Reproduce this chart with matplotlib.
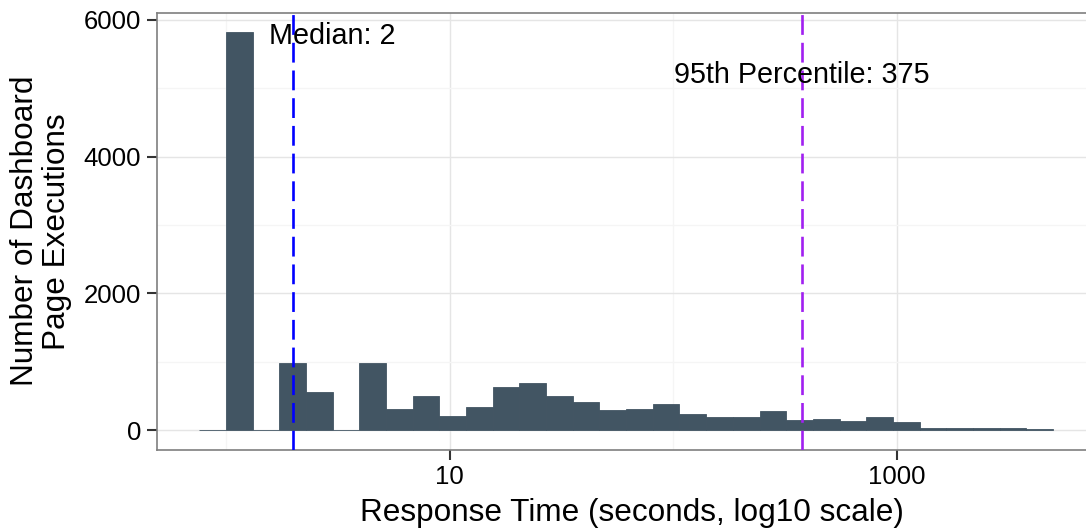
import numpy as np
import matplotlib
matplotlib.use("Agg")
import matplotlib.pyplot as plt
from matplotlib.ticker import FixedLocator, FixedFormatter

plt.rcParams['font.family'] = ['Liberation Sans', 'DejaVu Sans']

# ---- data ----
# log10-spaced histogram bins: first edge and width in log10(seconds)
bin_start_log10 = -0.1193
bin_width_log10 = 0.1193
counts = [0, 5815, 0, 976, 553, 0, 976, 306, 491, 200, 335, 626, 685, 495, 408,
          291, 306, 379, 233, 189, 189, 277, 146, 160, 131, 189, 117, 28, 28, 28, 28, 14]
median_value = 2
p95_value = 375
median_label = "Median: 2"
p95_label = "95th Percentile: 375"
median_label_pos = (3, 5770)
p95_label_pos = (375, 5200)
x_major_ticks = [10, 1000]
x_minor_ticks = [1, 100, 10000]
y_major_ticks = [0, 2000, 4000, 6000]
y_minor_ticks = [1000, 3000, 5000]

# ---- figure ----
W, H = 1086, 529
fig = plt.figure(figsize=(W / 100, H / 100), dpi=100)
left_px, right_px, top_px, bot_px = 157, 1095.6, 13, 449.5
ax = fig.add_axes([left_px / W, 1 - bot_px / H, (right_px - left_px) / W, (bot_px - top_px) / H])

n = len(counts)
edges = 10 ** (bin_start_log10 + bin_width_log10 * np.arange(n + 1))
ax.set_xscale('log')
bar_color = '#425563'
ax.bar(edges[:-1], counts, width=np.diff(edges), align='edge', color=bar_color,
       edgecolor=bar_color, linewidth=0.6, zorder=3)

ax.axvline(median_value, color='#0000FF', linewidth=1.9, dashes=(7.5, 3.0), zorder=4)
ax.axvline(p95_value, color='#A020F0', linewidth=1.9, dashes=(7.5, 3.0), zorder=4)

ax.text(median_label_pos[0], median_label_pos[1], median_label, ha='center', va='center',
        fontsize=20.7, color='black', zorder=5)
ax.text(p95_label_pos[0], p95_label_pos[1], p95_label, ha='center', va='center',
        fontsize=20.7, color='black', zorder=5)

ax.set_xlim(10 ** -0.3086, 10 ** 3.889)
ax.set_ylim(-285, 6100)

ax.xaxis.set_major_locator(FixedLocator(x_major_ticks))
ax.xaxis.set_major_formatter(FixedFormatter([str(t) for t in x_major_ticks]))
ax.xaxis.set_minor_locator(FixedLocator(x_minor_ticks))
ax.xaxis.set_minor_formatter(FixedFormatter([''] * len(x_minor_ticks)))
ax.yaxis.set_major_locator(FixedLocator(y_major_ticks))
ax.yaxis.set_minor_locator(FixedLocator(y_minor_ticks))

ax.grid(which='major', color='#E5E5E5', linewidth=1.0, zorder=0)
ax.grid(which='minor', color='#F5F5F5', linewidth=1.0, zorder=0)
ax.set_axisbelow(True)

ax.tick_params(which='major', length=7.5, width=1.5, color='#333333', labelsize=18.5,
               labelcolor='black', pad=4)
ax.tick_params(which='minor', length=0)

for s in ax.spines.values():
    s.set_color('#7F7F7F')
    s.set_linewidth(1.2)

ax.set_xlabel("Response Time (seconds, log10 scale)", fontsize=22.7)
ax.set_ylabel("Number of Dashboard\nPage Executions", fontsize=22.7, linespacing=1.12,
              multialignment='center')
ax.xaxis.set_label_coords((632 - left_px) / (right_px - left_px), (bot_px - 513) / (bot_px - top_px))
ax.xaxis.label.set_va('center')
ax.yaxis.set_label_coords((41 - left_px) / (right_px - left_px), 0.5)
ax.yaxis.label.set_va('center')

fig.savefig('out.png', dpi=100)
